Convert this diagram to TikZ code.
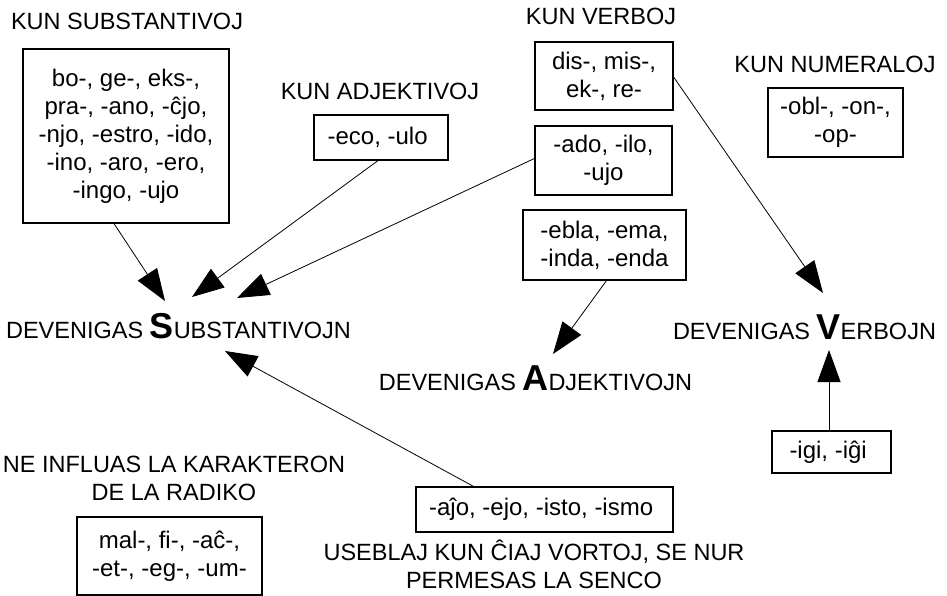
\documentclass[tikz,border=0pt]{standalone}
\usepackage{fontspec}
\setmainfont{Liberation Sans}
\usetikzlibrary{positioning,arrows.meta}
\newcommand{\bigletter}[1]{{\fontsize{36}{36}\selectfont\bfseries #1}}

\begin{document}
\begin{tikzpicture}[x=1pt, y=-1pt,
        affix/.style={
            rectangle, draw = black, line width = 1.2pt, inner sep = 0pt, align = center,
            font = \fontsize{24}{28}\selectfont
        },
        heading/.style={
            anchor = base, inner sep = 0pt, align = center,
            font = \fontsize{23.5}{28}\selectfont
        },
        derive/.style={
            line width = 0.8pt, -{Triangle[length=32pt,width=23pt]}
        },
    ]
        \useasboundingbox (0,0) rectangle (947,596);

        \node (kunSubst) [heading] at (127,30) {KUN SUBSTANTIVOJ};
        \node (boxSubst) [affix,minimum width=206pt,minimum height=174pt] at (126,136) { bo-, ge-, eks-,\\ pra-, -ano, -ĉjo,\\ -njo, -estro, -ido,\\ -ino, -aro, -ero,\\ -ingo, -ujo };

        \node (kunAdj) [heading] at (380,100) {KUN ADJEKTIVOJ};
        \node (boxEco) [affix,minimum width=134pt,minimum height=45pt] at (381,137.5) { -eco, -ulo };

        \node (kunVerb) [heading] at (601,25) {KUN VERBOJ};
        \node (boxDis) [affix,minimum width=138pt,minimum height=68pt] at (604,76) { dis-, mis-,\\ ek-, re- };
        \node (boxAdo) [affix,minimum width=137pt,minimum height=69pt] at (603.5,160.5) { -ado, -ilo,\\ -ujo };
        \node (boxEbla) [affix,minimum width=163pt,minimum height=70pt] at (604.5,245) { -ebla, -ema,\\ -inda, -enda };

        \node (kunNum) [heading] at (835,73) {KUN NUMERALOJ};
        \node (boxObl) [affix,minimum width=135pt,minimum height=69pt] at (835.5,122.5) { -obl-, -on-,\\ -op- };

        \node (devSubst) [heading] at (178.5,338) {DEVENIGAS \bigletter{S}UBSTANTIVOJN};
        \node (devAdj) [heading] at (535.5,390) {DEVENIGAS \bigletter{A}DJEKTIVOJN};
        \node (devVerb) [heading] at (804.5,339) {DEVENIGAS \bigletter{V}ERBOJN};

        \node (boxIgi) [affix,minimum width=119pt,minimum height=42pt] at (831.5,452) { -igi, -iĝi };

        % base of a two-line heading is its last line
        \node (neInfluas) [heading] at (174,500) {NE INFLUAS LA KARAKTERON\\ DE LA RADIKO};
        \node (boxMal) [affix,minimum width=185pt,minimum height=78pt] at (169.5,556) { mal-, fi-, -aĉ-,\\ -et-, -eg-, -um- };

        \node (boxAjo) [affix,minimum width=257pt,minimum height=45pt] at (544.5,509.5) { -aĵo, -ejo, -isto, -ismo };
        \node (useblaj) [heading] at (534,588) {USEBLAJ KUN ĈIAJ VORTOJ, SE NUR\\ PERMESAS LA SENCO};

        % arrow tips
        \coordinate (tipS1) at (165,301);
        \coordinate (tipS2) at (192,297);
        \coordinate (tipS3) at (237,298);
        \coordinate (tipS4) at (225,351);
        \coordinate (tipA) at (553,354);
        \coordinate (tipV1) at (823,293);
        \coordinate (tipV2) at (829,350);

        \draw[derive] ([xshift=-12pt]boxSubst.south) -- (tipS1);
        \draw[derive] ([xshift=-3pt]boxEco.south) -- (tipS2);
        \draw[derive] ([yshift=2pt]boxAdo.west) -- (tipS3);
        \draw[derive] ([xshift=-71pt]boxAjo.north) -- (tipS4);
        \draw[derive] ([xshift=2pt]boxEbla.south) -- (tipA);
        \draw[derive] ([yshift=-1pt]boxDis.east) -- (tipV1);
        \draw[derive] ([xshift=-2.5pt]boxIgi.north) -- (tipV2);

    \end{tikzpicture}
\end{document}
